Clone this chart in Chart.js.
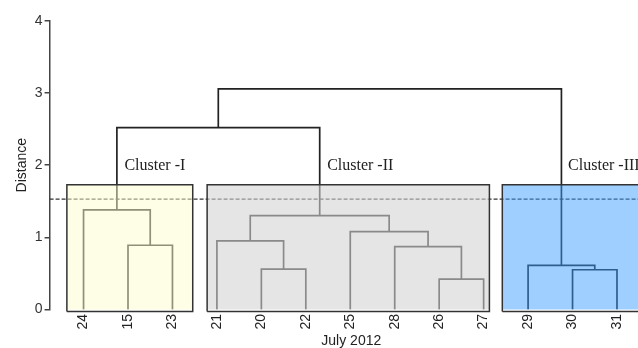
<!DOCTYPE html>
<html><head><meta charset="utf-8">
<script src="https://cdn.jsdelivr.net/npm/chart.js@4/dist/chart.umd.min.js"></script>
<style>html,body{margin:0;padding:0;overflow:hidden;background:#fff}#wrap{width:660px;height:348px}</style>
</head><body><div id="wrap"><canvas id="c" width="660" height="348"></canvas></div>
<script>
// Leaves (days of July 2012) in dendrogram order
const leafLabels = ['24','15','23','21','20','22','25','28','26','27','29','30','31'];
// hclust-style merge table: negative = leaf (1-based), positive = earlier merge (1-based)
const mergeA = [-2, -1, -5, -4, -9, -8, -7, 4, -12, -11, 2, 11];
const mergeB = [-3,  1, -6,  3, -10, 5,  6, 7, -13,   9, 8, 10];
const mergeHeight = [0.89, 1.38, 0.56, 0.95, 0.42, 0.87, 1.08, 1.30, 0.55, 0.61, 2.52, 3.06];
const cutHeight = 1.53;
const clusterNames = ['Cluster -I', 'Cluster -II', 'Cluster -III'];
const clusterFrom = [-0.375, 2.78, 9.42];
const clusterTo = [2.456, 9.13, 12.7];
const clusterTop = 1.73;
const yTicks = [0, 1, 2, 3, 4];

const cfg = {
  xMin: -0.764, xMax: 12.81, boxBottom: -0.03,
  boxFill: ['rgba(253,253,205,0.5)', 'rgba(211,211,211,0.59)', 'rgba(59,157,255,0.49)'],
  labelX: [0.92, 5.48, 10.9], labelY: 1.99
};

const nodeX = [], nodeH = [];
function pos(ref) { return ref < 0 ? { x: -ref - 1, h: 0 } : { x: nodeX[ref - 1], h: nodeH[ref - 1] }; }
const datasets = [];
mergeA.forEach((a, i) => {
  const pa = pos(a), pb = pos(mergeB[i]), h = mergeHeight[i];
  nodeX.push((pa.x + pb.x) / 2); nodeH.push(h);
  datasets.push({
    type: 'line',
    data: [{ x: pa.x, y: pa.h }, { x: pa.x, y: h }, { x: pb.x, y: h }, { x: pb.x, y: pb.h }],
    borderColor: '#222', borderWidth: 1.7, pointRadius: 0, fill: false, order: 3, tension: 0,
    borderJoinStyle: 'miter'
  });
});
datasets.push({
  type: 'line',
  data: [{ x: cfg.xMin, y: cutHeight }, { x: cfg.xMax, y: cutHeight }],
  borderColor: '#333', borderWidth: 1.2, borderDash: [4, 2], pointRadius: 0, fill: false, order: 2
});
clusterNames.forEach((n, i) => {
  const b = cfg.boxBottom;
  datasets.push({
    type: 'line', label: n,
    data: [{ x: clusterFrom[i], y: b }, { x: clusterTo[i], y: b }, { x: clusterTo[i], y: clusterTop },
           { x: clusterFrom[i], y: clusterTop }, { x: clusterFrom[i], y: b }],
    borderColor: '#333', borderWidth: 1.5, backgroundColor: cfg.boxFill[i], fill: 'shape',
    pointRadius: 0, order: 1, clip: false, borderJoinStyle: 'miter', tension: 0
  });
});

const clusterText = {
  id: 'clusterText',
  afterDatasetsDraw(chart, args, opts) {
    const { ctx, scales: { x, y } } = chart;
    ctx.save();
    ctx.font = opts.font; ctx.fillStyle = opts.color;
    ctx.textBaseline = 'middle'; ctx.textAlign = 'left';
    clusterNames.forEach((n, i) => ctx.fillText(n, x.getPixelForValue(opts.x[i]), y.getPixelForValue(opts.y)));
    ctx.restore();
  }
};

const sans = 'Liberation Sans, Arial, sans-serif';
new Chart(document.getElementById('c'), {
  type: 'line',
  data: { datasets },
  plugins: [clusterText],
  options: {
    responsive: false, animation: false, devicePixelRatio: 1, events: [],
    layout: { padding: { left: 10, top: 21, right: 7, bottom: 0 } },
    plugins: {
      legend: { display: false }, tooltip: { enabled: false },
      clusterText: { x: cfg.labelX, y: cfg.labelY, font: '16px "Liberation Serif", "Times New Roman", serif', color: '#222' }
    },
    scales: {
      x: {
        type: 'linear', min: cfg.xMin, max: cfg.xMax,
        afterBuildTicks: s => { s.ticks = leafLabels.map((_, i) => ({ value: i })); },
        grid: { display: false, drawTicks: false, tickLength: 0 }, border: { display: false },
        ticks: { autoSkip: false, minRotation: 90, maxRotation: 90, padding: 4.5, color: '#222',
                 font: { family: sans, size: 14 }, callback: v => leafLabels[Math.round(v)] },
        title: { display: true, text: 'July 2012', color: '#222', font: { family: sans, size: 14, lineHeight: 1 }, padding: { top: 0, bottom: 0 } }
      },
      y: {
        type: 'linear', min: 0, max: 4,
        afterBuildTicks: s => { s.ticks = yTicks.map(v => ({ value: v })); },
        grid: { drawOnChartArea: false, drawTicks: true, tickLength: 5, color: '#444', lineWidth: 1.5 },
        border: { display: true, color: '#444', width: 1.5 },
        ticks: { padding: 2, color: '#333', font: { family: sans, size: 14 } },
        title: { display: true, text: 'Distance', color: '#222', font: { family: sans, size: 14 }, padding: { top: 4, bottom: 2 } }
      }
    }
  }
});
</script></body></html>
